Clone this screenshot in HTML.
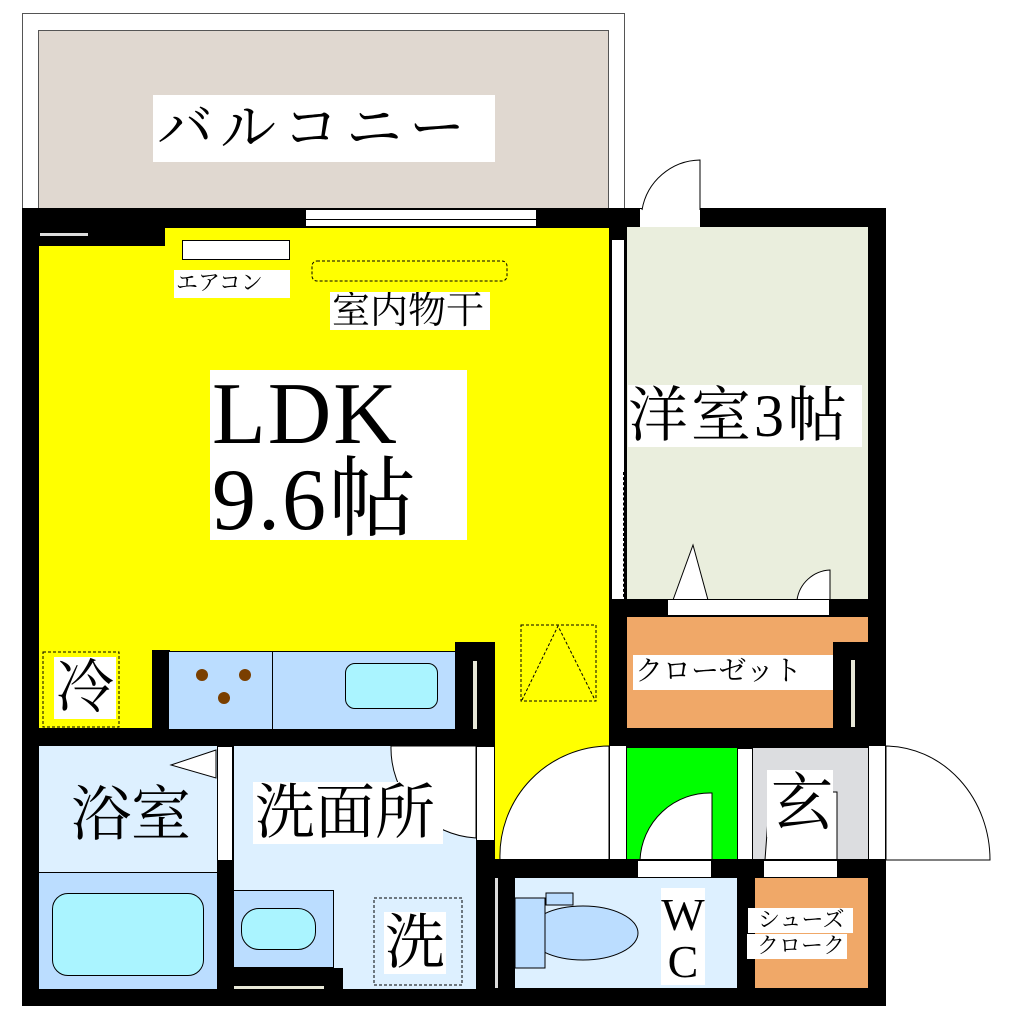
<!DOCTYPE html>
<html><head><meta charset="utf-8"><style>
body{margin:0;background:#fff;width:1020px;height:1020px;position:relative;overflow:hidden;font-family:"Liberation Serif","Noto Serif CJK SC",serif}
div{position:absolute;box-sizing:border-box}
.b{background:#000}
.w{background:#fff}
.t{background:#fff;color:#000;white-space:nowrap;line-height:1;overflow:hidden}
</style></head><body>
<div style="left:22px;top:13px;width:603px;height:200px;border:1px solid #555;border-bottom:none"></div>
<div style="left:38px;top:30px;width:571px;height:182px;background:#e0d8d0;border:1px solid #555"></div>
<div class="t" style="left:153px;top:95px;width:342px;height:67px;font-size:56px;letter-spacing:7px;padding:6px 0 0 4px">バルコニー</div>
<div style="left:38px;top:227px;width:571px;height:520px;background:#ffff00"></div>
<div style="left:495px;top:740px;width:114px;height:122px;background:#ffff00"></div>
<div class="b" style="left:22px;top:208px;width:864px;height:20px"></div>
<div class="w" style="left:305px;top:209px;width:232px;height:18px;border:1px solid #000"></div>
<div style="left:305px;top:219px;width:232px;height:1px;background:#000"></div>
<div class="w" style="left:640px;top:209px;width:60px;height:18px"></div>
<svg style="position:absolute;left:0;top:0" width="1020" height="1020">
<path d="M700 210 V160 A60 60 0 0 0 642 210" fill="#fff" stroke="#000" stroke-width="1"/>
</svg>
<div class="b" style="left:38px;top:227px;width:127px;height:19px"></div>
<div style="left:40px;top:233px;width:48px;height:3px;background:#ddd"></div>
<div class="b" style="left:22px;top:208px;width:17px;height:798px"></div>
<div class="b" style="left:868px;top:208px;width:18px;height:798px"></div>
<div class="b" style="left:22px;top:988px;width:864px;height:18px"></div>
<div style="left:627px;top:227px;width:241px;height:373px;background:#eaeedd"></div>
<div class="b" style="left:609px;top:227px;width:18px;height:520px"></div>
<div class="w" style="left:611px;top:240px;width:14px;height:232px;border-left:1px solid #000;border-right:1px solid #000"></div>
<div class="w" style="left:612px;top:472px;width:12px;height:130px;border-right:1px dashed #000"></div>
<div class="t" style="left:628px;top:385px;width:234px;height:62px;font-size:60px;letter-spacing:3px;padding:1px 0 0 0">洋室3帖</div>
<svg style="position:absolute;left:0;top:0" width="1020" height="1020">
<path d="M673 600 L693 545 L708 600Z" fill="#fff" stroke="#000"/>
<path d="M830 600 V570 A35 35 0 0 0 797 600Z" fill="#fff" stroke="#000"/>
</svg>
<div class="b" style="left:609px;top:599px;width:277px;height:18px"></div>
<div class="w" style="left:667px;top:599px;width:163px;height:17px;border:1px solid #000"></div>
<div style="left:627px;top:617px;width:241px;height:112px;background:#f0a868"></div>
<div class="b" style="left:833px;top:642px;width:35px;height:87px"></div>
<div style="left:851px;top:660px;width:4px;height:67px;background:#e8e8d8"></div>
<div class="t" style="left:633px;top:655px;width:200px;height:35px;font-size:28px;padding:3px 0 0 2px">クローゼット</div>
<div class="b" style="left:609px;top:728px;width:277px;height:20px"></div>
<div style="left:627px;top:748px;width:110px;height:112px;background:#00ff00"></div>
<div class="w" style="left:737px;top:748px;width:16px;height:112px;border:1px solid #000"></div>
<div style="left:753px;top:748px;width:115px;height:112px;background:#dcdde0"></div>
<div class="w" style="left:609px;top:745px;width:18px;height:115px;border:1px solid #000"></div>
<div class="w" style="left:868px;top:745px;width:18px;height:115px;border:1px solid #000"></div>
<svg style="position:absolute;left:0;top:0" width="1020" height="1020">
<path d="M609 860 V746 A110 110 0 0 0 500 860Z" fill="#fff" stroke="#000"/>
<path d="M886 860 V746 A105 114 0 0 1 990 860Z" fill="#fff" stroke="#000"/>
<path d="M712 860 V793 A70 70 0 0 0 640 860Z" fill="#fff" stroke="#000"/>
<path d="M837 860 V792 H770 L765 860Z" fill="#fff" stroke="#000"/>
</svg>
<div class="t" style="left:767px;top:770px;width:66px;height:67px;font-size:62px;padding:3px 0 0 4px">玄</div>
<div class="b" style="left:495px;top:859px;width:391px;height:19px"></div>
<div class="w" style="left:637px;top:860px;width:75px;height:18px;border:1px solid #000"></div>
<div class="w" style="left:763px;top:860px;width:75px;height:18px;border:1px solid #000"></div>
<div class="b" style="left:495px;top:859px;width:20px;height:147px"></div>
<div style="left:495px;top:878px;width:3px;height:110px;background:#ddd"></div>
<div style="left:515px;top:878px;width:222px;height:110px;background:#ddf0ff"></div>
<div class="b" style="left:737px;top:860px;width:18px;height:146px"></div>
<svg style="position:absolute;left:0;top:0" width="1020" height="1020">
<ellipse cx="583" cy="933" rx="55" ry="27" fill="#bbddff" stroke="#000"/>
<rect x="515" y="898" width="30" height="70" fill="#bbddff" stroke="#000"/>
<rect x="546" y="893" width="27" height="12" fill="#bbddff" stroke="#000"/>
</svg>
<div class="t" style="left:661px;top:888px;width:44px;height:97px;font-size:46px;text-align:center;padding-top:3px;line-height:47px">W<br>C</div>
<div style="left:755px;top:878px;width:113px;height:110px;background:#f0a868"></div>
<div class="t" style="left:748px;top:908px;width:105px;height:25px;font-size:22px;padding:1px 0 0 10px;background:#fff">シューズ</div>
<div class="t" style="left:747px;top:934px;width:100px;height:25px;font-size:22px;padding:1px 0 0 10px">クローク</div>
<div class="b" style="left:22px;top:728px;width:473px;height:18px"></div>
<div class="b" style="left:152px;top:650px;width:18px;height:80px"></div>
<div style="left:169px;top:651px;width:287px;height:78px;background:#bbddff;border-top:1px solid #000"></div>
<div style="left:272px;top:651px;width:1px;height:78px;background:#000"></div>
<div style="left:345px;top:663px;width:93px;height:46px;background:#aaf4ff;border:1px solid #000;border-radius:10px"></div>
<svg style="position:absolute;left:0;top:0" width="1020" height="1020">
<circle cx="202" cy="675" r="6" fill="#7a3f00"/><circle cx="245" cy="675" r="6" fill="#7a3f00"/><circle cx="224" cy="698" r="6" fill="#7a3f00"/>
<rect x="521" y="625" width="75" height="76" fill="none" stroke="#000" stroke-dasharray="3,2"/>
<path d="M522 700 L558 626 L595 700" fill="none" stroke="#000" stroke-dasharray="3,2"/>
<rect x="43" y="652" width="76" height="75" fill="none" stroke="#000" stroke-dasharray="3,2"/>
<rect x="312" y="261" width="195" height="20" rx="5" fill="none" stroke="#000" stroke-dasharray="3,2"/>
</svg>
<div class="b" style="left:455px;top:642px;width:40px;height:105px"></div>
<div style="left:473px;top:661px;width:4px;height:68px;background:#e8e8d8"></div>
<div class="t" style="left:54px;top:657px;width:62px;height:62px;font-size:58px;padding:2px 0 0 2px">冷</div>
<div class="w" style="left:182px;top:240px;width:108px;height:20px;border:1px solid #000"></div>
<div class="t" style="left:174px;top:270px;width:116px;height:28px;font-size:22px;padding:2px 0 0 2px">エアコン</div>
<div class="t" style="left:330px;top:292px;width:160px;height:38px;font-size:38px;padding:0 0 0 2px">室内物干</div>
<div class="t" style="left:210px;top:370px;width:257px;height:170px;font-size:88px;line-height:86px;padding:2px 0 0 2px;letter-spacing:2px">LDK<br>9.6帖</div>
<div style="left:39px;top:746px;width:178px;height:126px;background:#ddf0ff"></div>
<div style="left:39px;top:872px;width:178px;height:117px;background:#bbddff;border-top:1px solid #000"></div>
<div style="left:52px;top:893px;width:152px;height:83px;background:#aaf4ff;border:1px solid #000;border-radius:16px"></div>
<div class="t" style="left:69px;top:784px;width:125px;height:62px;font-size:60px;padding:1px 0 0 2px;background:#ddf0ff">浴室</div>
<div class="b" style="left:217px;top:746px;width:17px;height:243px"></div>
<div class="w" style="left:217px;top:746px;width:16px;height:115px;border:1px solid #000"></div>
<svg style="position:absolute;left:0;top:0" width="1020" height="1020">
<path d="M216 750 L171 765 L216 778Z" fill="#fff" stroke="#000"/>
</svg>
<div style="left:234px;top:746px;width:243px;height:243px;background:#ddf0ff"></div>
<div class="w" style="left:476px;top:746px;width:19px;height:95px;border:1px solid #000"></div>
<div class="b" style="left:476px;top:841px;width:19px;height:148px"></div>
<svg style="position:absolute;left:0;top:0" width="1020" height="1020">
<path d="M476 746 H391 A90 90 0 0 0 476 838Z" fill="#fff" stroke="#000"/>
</svg>
<div class="t" style="left:253px;top:782px;width:190px;height:62px;font-size:60px;padding:1px 0 0 2px">洗面所</div>
<div style="left:234px;top:890px;width:100px;height:78px;background:#bbddff;border:1px solid #000;border-left:none"></div>
<div style="left:241px;top:908px;width:75px;height:42px;background:#aaf4ff;border:1px solid #000;border-radius:18px"></div>
<div class="b" style="left:234px;top:968px;width:109px;height:21px"></div>
<div style="left:234px;top:986px;width:90px;height:3px;background:#e8e8d8"></div>
<svg style="position:absolute;left:0;top:0" width="1020" height="1020">
<rect x="374" y="898" width="88" height="87" fill="none" stroke="#000" stroke-dasharray="3,2"/>
</svg>
<div class="t" style="left:384px;top:912px;width:62px;height:62px;font-size:60px;padding:1px 0 0 1px">洗</div>
</body></html>
